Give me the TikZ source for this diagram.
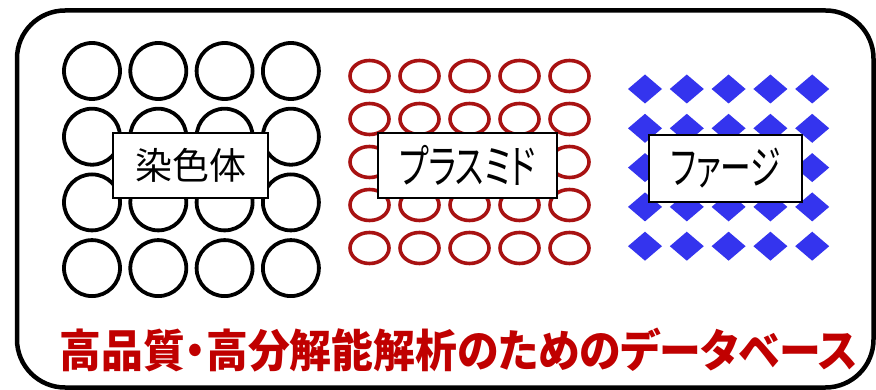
\documentclass[tikz,border=0pt]{standalone}
\usepackage{fontspec}
\usepackage{graphicx}
\newfontfamily\jp{Noto Sans CJK JP}
\newfontfamily\jpp[CharacterWidth=AlternateProportional]{Noto Sans CJK JP}
\definecolor{ringred}{RGB}{168,18,18}
\definecolor{diablue}{RGB}{52,52,238}
\definecolor{titlered}{RGB}{192,0,0}
\tikzset{
  blackring/.style={draw=black, line width=3.8pt},
  redring/.style={draw=ringred, line width=3.6pt},
  diamondmark/.style={fill=diablue},
  labelbox/.style={draw=black, line width=1.6pt, fill=white, inner sep=0pt, font=\fontsize{37}{37}\selectfont\jpp},
  katalabel/.style={font=\fontsize{46}{46}\selectfont\jpp},
  frame/.style={draw=black, line width=4.5pt, rounded corners=48pt}
}
\begin{document}
\begin{tikzpicture}[x=1pt,y=-1pt]
\useasboundingbox (0,0) rectangle (876,390);
\fill[white] (0,0) rectangle (876,390);
% outer frame
\draw[frame] (17,10.5) rectangle (873.5,387.5);
% black circles 4x4
\foreach \i in {0,...,3}{
  \foreach \j in {0,...,3}{
    \draw[blackring] ({92+66.3*\i},{71+65.7*\j}) circle[radius=28];
  }
}
% red rings 5x5
\foreach \i in {0,...,4}{
  \foreach \j in {0,...,4}{
    \draw[redring] ({369.5+50*\i},{76+43*\j}) ellipse[x radius=19.5, y radius=15.5];
  }
}
% blue diamonds 5x5
\foreach \i in {0,...,4}{
  \foreach \j in {0,...,4}{
    \fill[diamondmark] ({645+41.8*\i},{89+39.3*\j}) ++(-17,0) -- ++(17,-14.5) -- ++(17,14.5) -- ++(-17,14.5) -- cycle;
  }
}
% labels
\node[labelbox, minimum width=155pt, minimum height=65pt] (chrom) at (190.5,165.5) {染色体};
\node[labelbox, katalabel, minimum width=179pt, minimum height=65pt] (plasmid) at (467.5,165.5) {\resizebox{137pt}{\height}{プラスミド}};
\node[labelbox, katalabel, minimum width=153pt, minimum height=67pt] (phage) at (725.5,168.5) {\resizebox{110pt}{\height}{ファージ}};
% title
\node[text=titlered, inner sep=0pt] (title) at (459,350) {\resizebox{798pt}{\height}{\fontsize{45}{45}\selectfont\jpp\bfseries 高品質・高分解能解析のためのデータベース}};
\end{tikzpicture}
\end{document}
